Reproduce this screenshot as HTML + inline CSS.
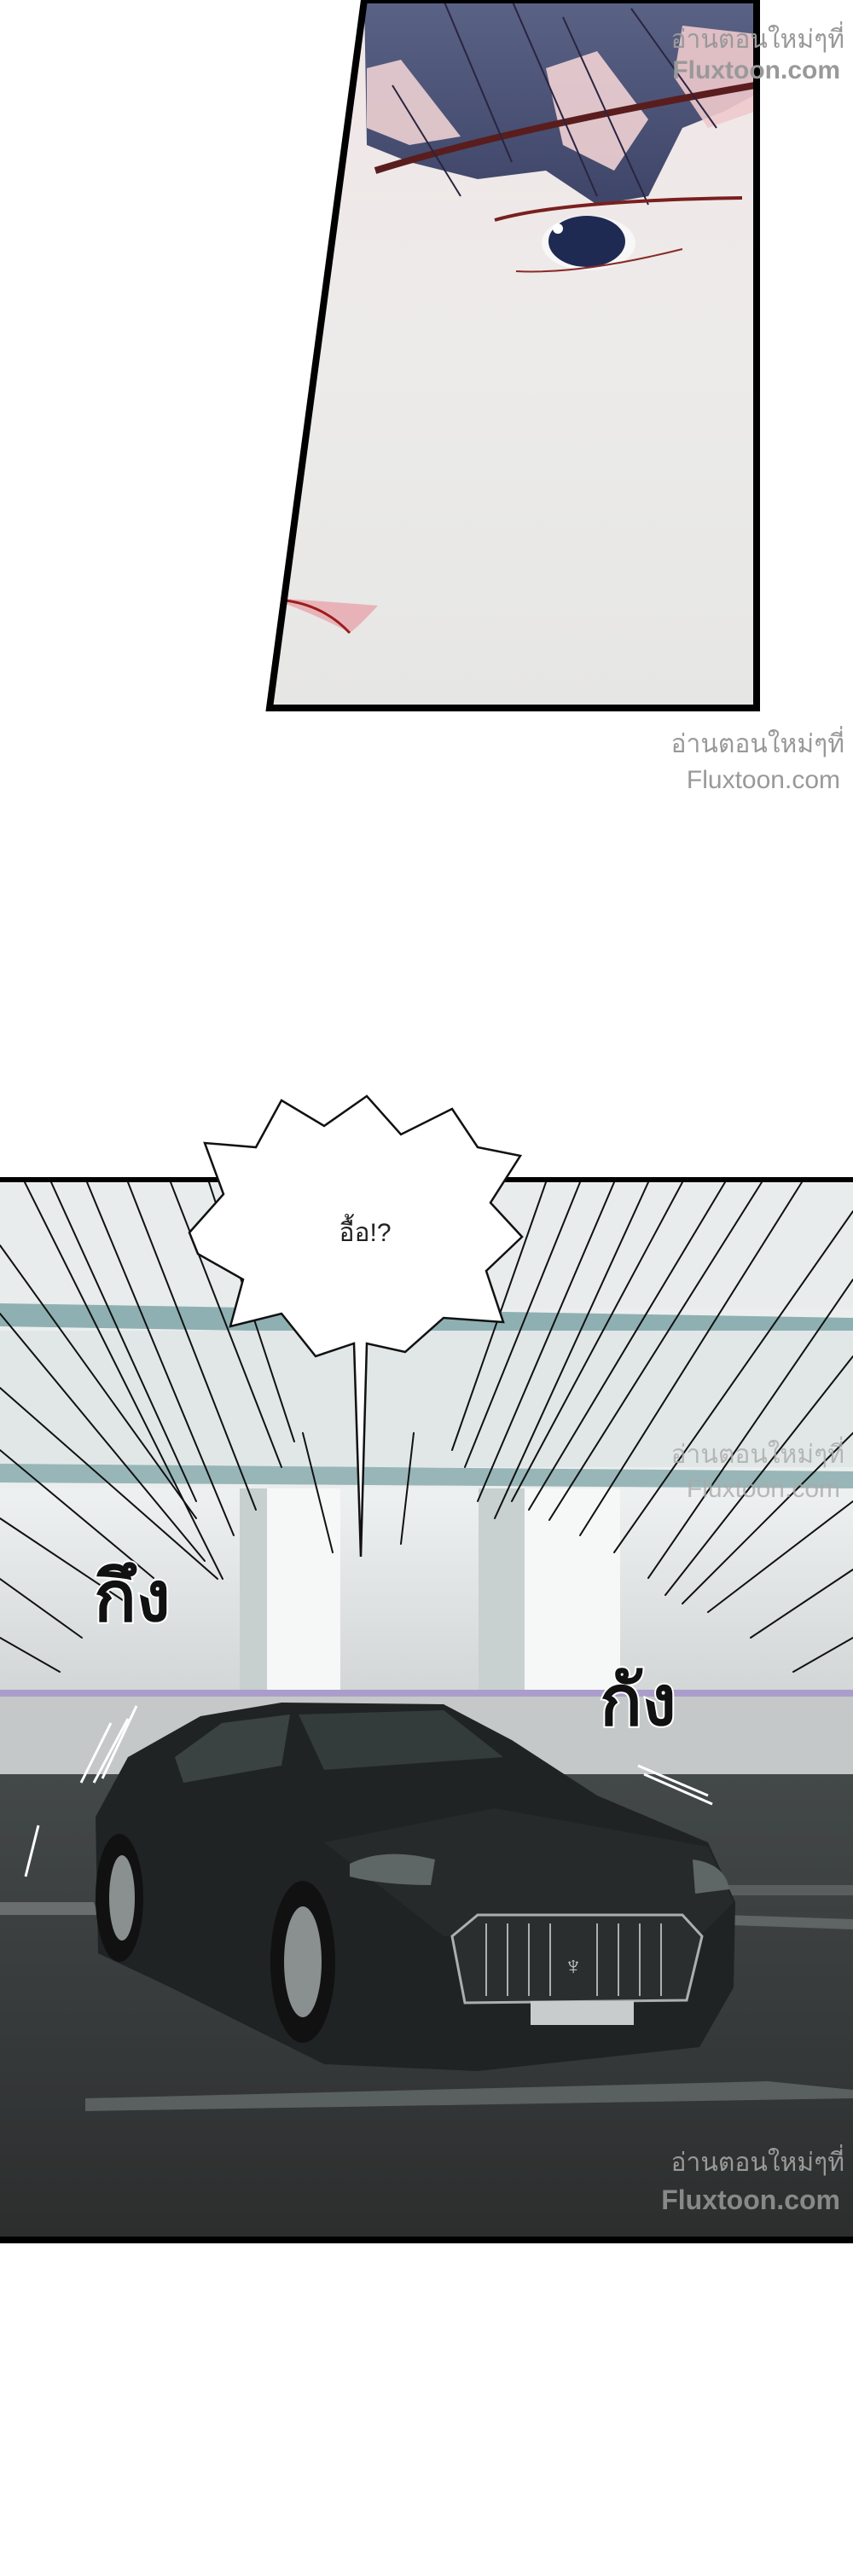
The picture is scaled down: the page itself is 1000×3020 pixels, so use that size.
<!DOCTYPE html>
<html><head><meta charset="utf-8"><style>
html,body{margin:0;padding:0;background:#fff;}
svg{display:block;}
text{font-family:"Liberation Sans","Noto Sans CJK SC","WenQuanYi Zen Hei",sans-serif;}
</style></head><body>
<svg width="1000" height="3020" viewBox="0 0 1000 3020" xmlns="http://www.w3.org/2000/svg">
<defs>
<linearGradient id="face" x1="0" y1="0" x2="0" y2="1">
<stop offset="0" stop-color="#f2e6e6"/><stop offset="0.5" stop-color="#ecebea"/><stop offset="1" stop-color="#e6e6e4"/></linearGradient>
<linearGradient id="hair" x1="0" y1="0" x2="0" y2="1">
<stop offset="0" stop-color="#5a6285"/><stop offset="1" stop-color="#3e4568"/></linearGradient>
<linearGradient id="wall" x1="0" y1="0" x2="0" y2="1">
<stop offset="0" stop-color="#eef1f1"/><stop offset="1" stop-color="#d2d6d6"/></linearGradient>
<linearGradient id="floor" x1="0" y1="0" x2="0" y2="1">
<stop offset="0" stop-color="#434848"/><stop offset="1" stop-color="#2c2e2e"/></linearGradient>
<clipPath id="p1"><polygon points="427,0 887,0 887,830 316,830"/></clipPath>
</defs>

<!-- Panel 1 -->
<g clip-path="url(#p1)">
<rect x="300" y="0" width="600" height="840" fill="url(#face)"/>
<polygon points="427,0 887,0 887,110 850,130 800,150 760,230 700,240 640,200 560,210 480,190 430,170" fill="url(#hair)"/>
<polygon points="430,80 470,70 540,160 480,170 430,150" fill="#ecd0d3" opacity="0.9"/>
<polygon points="640,80 700,60 760,140 720,200 660,170" fill="#efd1d4" opacity="0.9"/>
<polygon points="800,30 887,40 887,130 830,150 790,90" fill="#eec9cc" opacity="0.9"/>
<path d="M440,200 Q600,150 885,100" stroke="#5a1d1d" stroke-width="8" fill="none"/>
<g stroke="#2a2440" stroke-width="2" fill="none">
<path d="M520,0 L600,190"/><path d="M600,0 L700,230"/><path d="M660,20 L760,240"/><path d="M740,10 L840,150"/><path d="M460,100 L540,230"/></g>
<path d="M580,258 Q660,235 870,232" stroke="#7a1f1f" stroke-width="4" fill="none"/>
<ellipse cx="690" cy="285" rx="55" ry="32" fill="#f7f7f7"/>
<ellipse cx="688" cy="283" rx="45" ry="30" fill="#1f2a52"/>
<circle cx="654" cy="268" r="6" fill="#fff"/>
<path d="M605,318 Q680,322 800,292" stroke="#8a2a2a" stroke-width="2" fill="none"/>
<path d="M335,702 Q380,705 443,710 Q420,735 410,742 Q380,725 335,708Z" fill="#e8b3b8"/>
<path d="M335,704 Q380,710 410,742" stroke="#9b1d1d" stroke-width="3" fill="none"/>
</g>
<polygon points="427,0 887,0 887,830 316,830" fill="none" stroke="#000" stroke-width="8"/>
<text x="990" y="56" text-anchor="end" font-size="30" fill="#999">อ่านตอนใหม่ๆที่</text>
<text x="985" y="92" text-anchor="end" font-size="30" font-weight="bold" fill="#999">Fluxtoon.com</text>
<text x="990" y="882" text-anchor="end" font-size="30" fill="#999">อ่านตอนใหม่ๆที่</text>
<text x="985" y="924" text-anchor="end" font-size="30" fill="#999">Fluxtoon.com</text>

<!-- Panel 2 -->
<rect x="0" y="1384" width="1000" height="1240" fill="#eceeee"/>
<rect x="0" y="1384" width="1000" height="150" fill="#e9ecec"/>
<polygon points="0,1528 1000,1545 1000,1572 0,1555" fill="#8fb0b2"/>
<rect x="0" y="1560" width="1000" height="160" fill="#e1e7e7"/>
<polygon points="0,1716 1000,1725 1000,1745 0,1738" fill="#98b6b8"/>
<rect x="0" y="1745" width="1000" height="240" fill="url(#wall)"/>
<rect x="281" y="1745" width="32" height="250" fill="#c7cfcf"/>
<rect x="313" y="1745" width="86" height="250" fill="#f6f7f7"/>
<rect x="561" y="1745" width="54" height="270" fill="#c9d0d0"/>
<rect x="615" y="1745" width="112" height="280" fill="#f6f7f7"/>
<rect x="0" y="1981" width="1000" height="8" fill="#ab9dcb"/>
<rect x="0" y="1989" width="1000" height="95" fill="#c4c8c8"/>
<rect x="0" y="2080" width="1000" height="545" fill="url(#floor)"/>
<polygon points="0,2230 110,2230 115,2245 0,2245" fill="#6a6e6e"/>
<polygon points="100,2460 900,2440 1000,2450 1000,2460 100,2475" fill="#5a5f5f"/>
<polygon points="700,2240 1000,2250 1000,2262 720,2252" fill="#5f6464"/>
<rect x="830" y="2210" width="170" height="12" fill="#5a5e5e"/>

<!-- car -->
<polygon points="112,2130 150,2060 235,2012 330,1996 520,1998 600,2040 700,2105 830,2160 862,2230 860,2330 820,2400 560,2428 380,2420 200,2330 115,2290" fill="#1f2323"/>
<polygon points="205,2060 260,2020 340,2010 330,2070 215,2090" fill="#3b4242"/>
<polygon points="350,2010 520,2005 590,2060 380,2075" fill="#343b3b"/>
<polygon points="380,2160 580,2120 830,2165 860,2230 820,2270 520,2270" fill="#262a2a"/>
<path d="M410,2185 Q450,2165 510,2180 L505,2210 Q450,2210 410,2200Z" fill="#5f6666"/>
<path d="M812,2180 Q850,2185 855,2215 L815,2220Z" fill="#5f6666"/>
<polygon points="530,2270 560,2245 800,2245 823,2270 805,2345 545,2348" fill="#2a2e2e" stroke="#aab0b0" stroke-width="3"/>
<g stroke="#aab0b0" stroke-width="2">
<line x1="570" y1="2255" x2="570" y2="2340"/><line x1="595" y1="2255" x2="595" y2="2340"/><line x1="620" y1="2255" x2="620" y2="2340"/><line x1="645" y1="2255" x2="645" y2="2340"/><line x1="700" y1="2255" x2="700" y2="2340"/><line x1="725" y1="2255" x2="725" y2="2340"/><line x1="750" y1="2255" x2="750" y2="2340"/><line x1="775" y1="2255" x2="775" y2="2340"/></g>
<text x="672" y="2315" text-anchor="middle" font-size="30" fill="#ccc">♆</text>
<rect x="622" y="2346" width="121" height="28" fill="#c8cccc"/>
<ellipse cx="140" cy="2225" rx="28" ry="75" fill="#111"/>
<ellipse cx="143" cy="2225" rx="15" ry="50" fill="#8a8f8f"/>
<ellipse cx="355" cy="2300" rx="38" ry="95" fill="#111"/>
<ellipse cx="355" cy="2300" rx="22" ry="65" fill="#8a8f8f"/>

<!-- speed lines -->
<g stroke="#111" stroke-width="2" stroke-linecap="round">
<line x1="29" y1="1386" x2="261" y2="1851"/><line x1="102" y1="1386" x2="274" y2="1800"/>
<line x1="60" y1="1386" x2="230" y2="1760"/><line x1="150" y1="1386" x2="300" y2="1770"/>
<line x1="200" y1="1386" x2="330" y2="1720"/><line x1="245" y1="1386" x2="345" y2="1690"/>
<line x1="0" y1="1460" x2="230" y2="1780"/><line x1="0" y1="1540" x2="240" y2="1830"/>
<line x1="0" y1="1627" x2="255" y2="1851"/><line x1="0" y1="1700" x2="180" y2="1850"/>
<line x1="0" y1="1780" x2="150" y2="1880"/><line x1="0" y1="1851" x2="96" y2="1920"/>
<line x1="0" y1="1920" x2="70" y2="1960"/>
<line x1="893" y1="1386" x2="644" y2="1782"/><line x1="850" y1="1386" x2="620" y2="1770"/>
<line x1="800" y1="1386" x2="600" y2="1760"/><line x1="760" y1="1386" x2="580" y2="1780"/>
<line x1="720" y1="1386" x2="560" y2="1760"/><line x1="680" y1="1386" x2="545" y2="1720"/>
<line x1="640" y1="1386" x2="530" y2="1700"/><line x1="940" y1="1386" x2="680" y2="1800"/>
<line x1="1000" y1="1420" x2="720" y2="1820"/><line x1="1000" y1="1500" x2="760" y2="1850"/>
<line x1="1000" y1="1590" x2="780" y2="1870"/><line x1="1000" y1="1680" x2="800" y2="1880"/>
<line x1="1000" y1="1760" x2="830" y2="1890"/><line x1="1000" y1="1840" x2="880" y2="1920"/>
<line x1="1000" y1="1920" x2="930" y2="1960"/>
<line x1="355" y1="1680" x2="390" y2="1820"/><line x1="485" y1="1680" x2="470" y2="1810"/>
</g>
<rect x="0" y="1380" width="1000" height="6" fill="#000"/>
<rect x="0" y="2622" width="1000" height="8" fill="#000"/>

<!-- bubble -->
<path d="M222,1445 L262,1400 L240,1340 L300,1345 L330,1290 L380,1320 L430,1285 L470,1330 L530,1300 L560,1345 L610,1355 L575,1410 L612,1450 L570,1490 L590,1550 L520,1545 L475,1585 L430,1575 L423,1825 L415,1575 L370,1590 L330,1540 L270,1555 L285,1500 L232,1470 Z" fill="#fff" stroke="#111" stroke-width="2.5"/>
<text x="428" y="1455" text-anchor="middle" font-size="30" fill="#222">อื้อ!?</text>

<text x="155" y="1900" text-anchor="middle" font-size="82" font-weight="bold" fill="#111" stroke="#fff" stroke-width="4" paint-order="stroke">กึง</text>
<text x="748" y="2022" text-anchor="middle" font-size="82" font-weight="bold" fill="#111" stroke="#fff" stroke-width="4" paint-order="stroke">กัง</text>
<g stroke="#fff" stroke-width="3"><line x1="95" y1="2090" x2="130" y2="2020"/><line x1="110" y1="2090" x2="150" y2="2015"/><line x1="120" y1="2085" x2="160" y2="2000"/><line x1="30" y1="2200" x2="45" y2="2140"/><line x1="748" y1="2070" x2="830" y2="2105"/><line x1="755" y1="2080" x2="835" y2="2115"/></g>

<text x="990" y="1715" text-anchor="end" font-size="30" fill="#aaa" opacity="0.8">อ่านตอนใหม่ๆที่</text>
<text x="985" y="1755" text-anchor="end" font-size="30" fill="#aaa" opacity="0.8">Fluxtoon.com</text>
<text x="990" y="2545" text-anchor="end" font-size="30" fill="#999">อ่านตอนใหม่ๆที่</text>
<text x="985" y="2590" text-anchor="end" font-size="32" font-weight="bold" fill="#888">Fluxtoon.com</text>
</svg>
</body></html>
